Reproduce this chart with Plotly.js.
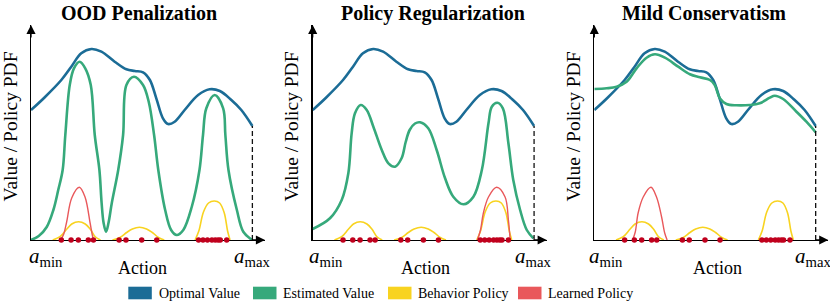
<!DOCTYPE html>
<html><head><meta charset="utf-8">
<script src="https://cdn.plot.ly/plotly-3.0.1.min.js"></script>
<style>html,body{margin:0;padding:0;background:#fff}#chart{width:830px;height:302px}</style>
</head><body><div id="chart"></div>
<script>
// ---------- data (action axis: a_min = 0, a_max = 100) ----------
const panelTitles = ['OOD Penalization', 'Policy Regularization', 'Mild Conservatism'];
const seriesNames = ['Optimal Value', 'Estimated Value', 'Behavior Policy', 'Learned Policy'];
const yAxisLabel = 'Value / Policy PDF';
const xAxisLabel = 'Action';

// Optimal value (same in every panel)
const optimalA = [0, 6.0, 13.7, 18.2, 22.7, 27.3, 31.8, 37.8, 43.1, 46.9, 50.6, 53.7, 56.6, 59.6, 61.9, 64.9, 69.4, 75.5, 80.7, 85.3, 90.5, 95.0, 100];
const optimalV = [130, 142.3, 160, 173.3, 186.7, 191, 188.3, 178.3, 170.7, 169, 167.7, 160, 141.7, 121.7, 116, 118.3, 130, 145, 150.7, 149, 140, 130, 114];

// Estimated value, panel 1 (OOD penalization)
const estimatedA1 = [0, 3.5, 7.1, 10.1, 12.3, 14.3, 15.5, 17.5, 19.4, 22.0, 24.5, 27.0, 28.8, 30.9, 31.9, 32.8, 33.9, 35.0, 36.5, 39.4, 41.6, 43.1, 46.5, 50.6, 53.2, 55.6, 57.5, 60.6, 63.3, 65.8, 68.8, 72.6, 76.1, 77.7, 79.2, 83.0, 86.8, 87.8, 89.2, 93.0, 95.9, 99.9];
const estimatedV1 = [0, 4, 13, 30, 50, 70, 105, 155, 171.7, 178.3, 171.7, 155, 105, 70, 37, 17, 8.3, 17, 37, 70, 105, 155, 163.3, 155, 138, 105, 70, 30, 10, 5, 10, 33, 70, 105, 131.7, 145, 131.7, 105, 70, 30, 8.3, 0];
// Estimated value, panel 2 (policy regularization)
const estimatedA2 = [0, 7.8, 13.1, 16.1, 17.6, 19.1, 21.7, 24.4, 27.4, 31.2, 34.2, 37.2, 40.2, 42.0, 43.8, 46.2, 48.5, 52.2, 56.0, 59.8, 63.5, 68.1, 72.6, 76.4, 79.4, 80.9, 83.4, 85.9, 88.4, 90.6, 93.7, 96.7, 99.7];
const estimatedV2 = [11, 21.7, 40, 66.7, 106.7, 126.7, 135, 130, 113.3, 90, 76.7, 73.3, 82, 98, 110, 116.5, 117.7, 111.7, 90, 61.7, 43.3, 35.7, 43.3, 70, 116.7, 133.3, 137.3, 131.7, 96.7, 60, 30, 10, 1.7];
// Estimated value, panel 3 (mild conservatism)
const estimatedA3 = [0, 5.6, 10.1, 14.6, 19.1, 23.6, 27.4, 31.9, 37.9, 43.2, 47.7, 52.2, 54.4, 56.7, 59.7, 64.2, 70.2, 74.7, 79.3, 81.5, 85.3, 91.3, 95.8, 100];
const estimatedV3 = [151, 151.7, 153.3, 158.3, 171.7, 182.3, 185.7, 182.3, 173.3, 165.7, 162.7, 160, 155, 141.7, 136, 134.7, 135, 136.7, 142.3, 144.3, 141, 128.3, 118.3, 107.7];

// Behavior policy PDF (same in every panel), three modes
const behaviorA = [9.8, 13.1, 16.1, 18.4, 21.5, 24.5, 26.8, 29.0, 31.4, null,
                   36.8, 40.2, 43.2, 45.8, 49.0, 52.2, 54.8, 57.6, 60.2, null,
                   74.1, 75.8, 77.9, 80.2, 82.8, 85.2, 87.3, 88.8, 89.9];
const behaviorV = [0, 3.3, 10.7, 16, 18.3, 16, 10.7, 3.3, 0, null,
                   0, 2.5, 7.5, 11, 12.7, 11, 7.5, 2.5, 0, null,
                   0, 9, 28, 37, 39, 37, 27, 9, 0];

// Learned policy PDF per panel
const learnedA1 = [13.4, 14.8, 16.1, 18.4, 21.8, 24.4, 26.7, 27.6, 28.2];
const learnedV1 = [0, 6, 18, 42, 52.7, 43, 17, 6, 0];
const learnedA2 = [74.4, 75.8, 77.1, 79.4, 83.1, 86.9, 88.4, 89.2];
const learnedV2 = [0, 10, 27, 43, 52.7, 43, 20, 0];
const learnedA3 = [17.3, 18.5, 19.8, 22.1, 25.6, 28.1, 30.4, 31.8, 32.9];
const learnedV3 = [0, 8, 27, 43, 52.7, 43, 23, 7, 0];

// Dataset actions (red dots on the action axis)
const sampleA = [13.7, 18.1, 21.4, 25.9, 28.2, 39.8, 42.9, 50.0, 56.8, 75.7, 77.7, 79.7, 81.7, 83.2, 84.5, 85.5, 88.4];

// ---------- styling / layout ----------
const W = 830, H = 302;
const colors = {opt: '#1b6c96', est: '#36a97b', beh: '#f8d320', lrn: '#e9585b', dot: '#c0001d'};
const serif = "'Liberation Serif'";
const px = v => v / W, py = v => (H - v) / H;

const axisPx = [[31, 265], [312.7, 546.7], [594.3, 828.3]];
const estimated = [[estimatedA1, estimatedV1], [estimatedA2, estimatedV2], [estimatedA3, estimatedV3]];
const learned = [[learnedA1, learnedV1], [learnedA2, learnedV2], [learnedA3, learnedV3]];

const traces = [];
const layout = {
  width: W, height: H, margin: {l: 0, r: 0, t: 0, b: 0},
  paper_bgcolor: '#fff', plot_bgcolor: 'rgba(0,0,0,0)',
  showlegend: false, annotations: [], shapes: [],
  font: {family: serif, color: '#000', size: 14}
};

const titleX = [139, 432.5, 703.5];
const ylabX = [9.5, 290.5, 572.5];
const actionX = [142.7, 425, 717.5];
const aminX = [26.7, 306.7, 586.7];
const amaxX = [232, 512.7, 793.3];

for (let k = 0; k < 3; k++) {
  const sx = k === 0 ? '' : String(k + 1);
  const xa = 'x' + sx, ya = 'y' + sx;
  const common = {xaxis: xa, yaxis: ya, mode: 'lines', hoverinfo: 'skip', cliponaxis: false};
  traces.push(Object.assign({}, common, {name: seriesNames[0], x: optimalA, y: optimalV,
    line: {color: colors.opt, width: 2.6, shape: 'spline', smoothing: 1}}));
  traces.push(Object.assign({}, common, {name: seriesNames[1], x: estimated[k][0], y: estimated[k][1],
    line: {color: colors.est, width: 2.6, shape: 'spline', smoothing: 1}}));
  traces.push(Object.assign({}, common, {name: seriesNames[2], x: behaviorA, y: behaviorV, connectgaps: false,
    line: {color: colors.beh, width: 1.6, shape: 'spline', smoothing: 1}}));
  traces.push(Object.assign({}, common, {name: seriesNames[3], x: learned[k][0], y: learned[k][1],
    line: {color: colors.lrn, width: 1.4, shape: 'spline', smoothing: 1}}));
  const lastA = optimalA[optimalA.length - 1], lastV = optimalV[optimalV.length - 1];
  traces.push(Object.assign({}, common, {x: [lastA, lastA], y: [0, lastV],
    line: {color: '#111', width: 1.3, dash: '5px,3px'}}));
  traces.push({xaxis: xa, yaxis: ya, mode: 'markers', hoverinfo: 'skip', cliponaxis: false,
    x: sampleA, y: sampleA.map(() => 0), marker: {color: colors.dot, size: 5.5}});

  layout['xaxis' + sx] = {domain: [px(axisPx[k][0]), px(axisPx[k][1])], range: [0, 105.7], anchor: ya,
    showline: true, linecolor: '#000', linewidth: 1.3, showticklabels: false, ticks: '',
    showgrid: false, zeroline: false, fixedrange: true, layer: 'below traces'};
  layout['yaxis' + sx] = {domain: [py(240), py(25)], range: [0, 215], anchor: xa,
    showline: true, linecolor: '#000', linewidth: 1.3, showticklabels: false, ticks: '',
    showgrid: false, zeroline: false, fixedrange: true, layer: 'below traces'};

  // axis arrowheads
  layout.annotations.push({xref: xa, yref: ya, x: 105.7, y: 0, ax: -14, ay: 0, text: '',
    showarrow: true, arrowhead: 2, arrowsize: 1.4, arrowwidth: 1.3, arrowcolor: '#000'});
  layout.annotations.push({xref: xa, yref: ya, x: 0, y: 215, ax: 0, ay: 14, text: '',
    showarrow: true, arrowhead: 2, arrowsize: 1.4, arrowwidth: 1.3, arrowcolor: '#000'});

  // texts
  layout.annotations.push({xref: 'paper', yref: 'paper', x: px(titleX[k]), y: 1, xanchor: 'center', yanchor: 'top',
    text: '<b>' + panelTitles[k] + '</b>', showarrow: false, font: {family: serif, size: 20, color: '#000'}});
  layout.annotations.push({xref: 'paper', yref: 'paper', x: px(ylabX[k]), y: py(127), xanchor: 'center', yanchor: 'middle',
    text: yAxisLabel, textangle: -90, showarrow: false, font: {family: serif, size: 19.5, color: '#000'}});
  layout.annotations.push({xref: 'paper', yref: 'paper', x: px(actionX[k]), y: py(267.5), xanchor: 'center', yanchor: 'middle',
    text: xAxisLabel, showarrow: false, font: {family: serif, size: 18, color: '#000'}});
  layout.annotations.push({xref: 'paper', yref: 'paper', x: px(aminX[k]), y: py(257), xanchor: 'left', yanchor: 'middle',
    text: '<i>a</i><sub>min</sub>', showarrow: false, font: {family: serif, size: 21, color: '#000'}});
  layout.annotations.push({xref: 'paper', yref: 'paper', x: px(amaxX[k]), y: py(257), xanchor: 'left', yanchor: 'middle',
    text: '<i>a</i><sub>max</sub>', showarrow: false, font: {family: serif, size: 21, color: '#000'}});
}

// legend (manual patches)
const legendPatchX = [128.3, 253, 388, 518];
const legendColors = [colors.opt, colors.est, colors.beh, colors.lrn];
for (let i = 0; i < 4; i++) {
  layout.shapes.push({type: 'rect', xref: 'paper', yref: 'paper', x0: px(legendPatchX[i]), x1: px(legendPatchX[i] + 23.5),
    y0: py(299.3), y1: py(286.7), fillcolor: legendColors[i], line: {width: 0}});
  layout.annotations.push({xref: 'paper', yref: 'paper', x: px(legendPatchX[i] + 28.4), y: py(293), xanchor: 'left', yanchor: 'middle',
    text: seriesNames[i], showarrow: false, font: {family: serif, size: 14, color: '#000'}});
}

Plotly.newPlot('chart', traces, layout, {staticPlot: true, displayModeBar: false});
</script></body></html>
